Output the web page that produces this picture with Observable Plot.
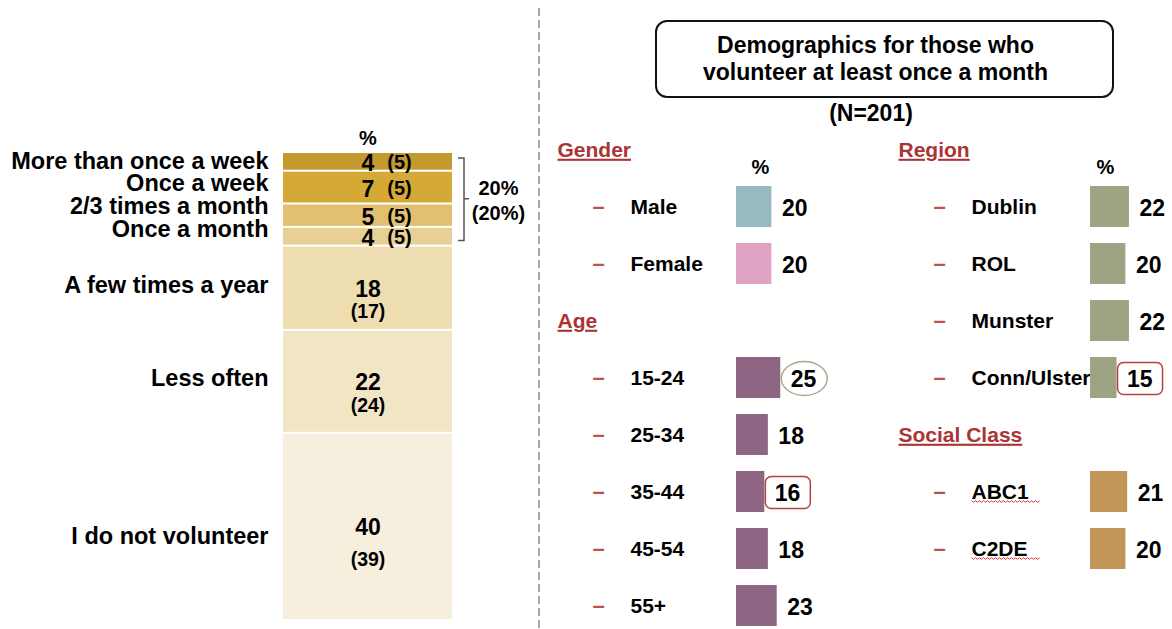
<!DOCTYPE html>
<html><head><meta charset="utf-8">
<script src="https://cdn.jsdelivr.net/npm/d3@7"></script>
<script src="https://cdn.jsdelivr.net/npm/@observablehq/plot@0.6"></script>
<style>
html,body{margin:0;padding:0;background:#fff;}
#root{position:relative;width:1172px;height:629px;overflow:hidden;font-family:"Liberation Sans",Arial,sans-serif;}
#root svg{position:absolute;top:0;}
.titlebox{position:absolute;left:655px;top:20px;width:437px;height:74px;padding-right:18px;border:2px solid #111;border-radius:12px;display:flex;align-items:center;justify-content:center;text-align:center;font-weight:bold;font-size:23px;line-height:27px;color:#000;}
.nline{position:absolute;left:655px;width:432px;top:100px;text-align:center;font-weight:bold;font-size:23px;color:#000;}
</style></head><body><div id="root"></div>
<script>
// ---- Data ----
const freqLabels = ["More than once a week","Once a week","2/3 times a month","Once a month","A few times a year","Less often","I do not volunteer"];
const freqValues = [4, 7, 5, 4, 18, 22, 40];
const freqPrev   = [5, 5, 5, 5, 17, 24, 39];
const freqColors = ["#C29A2E","#D4A935","#E1C170","#E8D095","#EEDDB0","#F2E5C5","#F6EFDD"];

const titleLines = ["Demographics for those who", "volunteer at least once a month"];
const baseLabel = "(N=201)";

const genderLabels = ["Male","Female"];
const genderValues = [20, 20];
const genderColors = ["#96BAC0","#E0A3C3"];

const ageLabels = ["15-24","25-34","35-44","45-54","55+"];
const ageValues = [25, 18, 16, 18, 23];
const ageColors = ["#8F6584"];

const regionLabels = ["Dublin","ROL","Munster","Conn/Ulster"];
const regionValues = [22, 20, 22, 15];
const regionColors = ["#9EA383"];

const classLabels = ["ABC1","C2DE"];
const classValues = [21, 20];
const classColors = ["#C19658"];

const highlights = [
  {label: "15-24", shape: "ellipse"},
  {label: "35-44", shape: "box"},
  {label: "Conn/Ulster", shape: "box"}
];
const spellFlagged = ["ABC1","C2DE"];

// ---- Styles ----
const FONT = '"Liberation Sans", Arial, sans-serif';
const RED = "#A93535";
const DASH = "#C0504D";
const root = document.getElementById("root");

// ---- Left: stacked frequency bar ----
let cum = 0;
const freqRows = freqLabels.map((label, i) => {
  const r = {label, value: freqValues[i], prev: freqPrev[i], color: freqColors[i], y1: cum, y2: cum + freqValues[i], key: "all", i};
  cum += freqValues[i];
  return r;
});
const mid = d => (d.y1 + d.y2) / 2;
const top4 = freqRows.slice(0, 4), rest = freqRows.slice(4);
const monthlyTotal = d3.sum(top4, d => d.value);
const monthlyPrev = d3.sum(top4, d => d.prev);
const bold = {fontWeight: "bold", fill: "#000"};

const plotA = Plot.plot({
  width: 540, height: 629, margin: 0,
  style: {fontFamily: FONT, background: "transparent", overflow: "visible"},
  x: {type: "band", domain: ["all"], range: [283, 452], padding: 0, axis: null},
  y: {domain: [0, 100], range: [152, 620], axis: null},
  color: {type: "identity"},
  marks: [
    Plot.barY(freqRows, {x: "key", y1: "y1", y2: "y2", fill: "color", insetTop: 1, insetBottom: 1}),
    Plot.text(["%"], {x: () => "all", y: () => 0, dy: -14, fontSize: 20, ...bold}),
    Plot.text([top4.map(d => d.label).join("\n")], {x: () => "all", y: () => monthlyTotal / 2, dx: -99.5, dy: -4, textAnchor: "end", lineHeight: 0.965, fontSize: 23.5, ...bold}),
    Plot.text(rest.slice(0, 2), {x: "key", y: mid, text: "label", dx: -99.5, dy: -3, textAnchor: "end", fontSize: 23.5, ...bold}),
    Plot.text(rest.slice(2), {x: "key", y: mid, text: "label", dx: -99.5, dy: 10, textAnchor: "end", fontSize: 23.5, ...bold}),
    Plot.text(top4, {x: "key", y: mid, text: d => String(d.value), dy: 2, fontSize: 23, ...bold}),
    Plot.text(top4, {x: "key", y: mid, text: d => `(${d.prev})`, dx: 31.5, dy: 1, fontSize: 20, ...bold}),
    Plot.text(rest, {x: "key", y: mid, text: d => String(d.value), dy: 1, fontSize: 23, ...bold}),
    Plot.text(rest.slice(0, 2), {x: "key", y: mid, text: d => `(${d.prev})`, dy: 24, fontSize: 19.5, ...bold}),
    Plot.text(rest.slice(2), {x: "key", y: mid, text: d => `(${d.prev})`, dy: 33, fontSize: 19.5, ...bold}),
    // bracket round the monthly-or-more group
    (index, scales) => {
      const xr = scales.x("all") + scales.x.bandwidth();
      const yt = scales.y(0) + 6, yb = scales.y(monthlyTotal) - 5, ym = scales.y(monthlyTotal / 2);
      const g = d3.create("svg:g");
      g.append("path")
        .attr("d", `M${xr + 6},${yt}H${xr + 12}V${yb}H${xr + 6}M${xr + 12},${ym}H${xr + 17}`)
        .attr("fill", "none").attr("stroke", "#555").attr("stroke-width", 1.5);
      return g.node();
    },
    Plot.text([`${monthlyTotal}%\n(${monthlyPrev}%)`], {x: () => "all", y: () => monthlyTotal / 2, dx: 130.5, lineHeight: 1.25, fontSize: 20, ...bold}),
    // dashed divider
    (index, scales, values, dims) => {
      const g = d3.create("svg:g");
      g.append("line").attr("x1", dims.width - 1).attr("x2", dims.width - 1).attr("y1", 8).attr("y2", dims.height)
        .attr("stroke", "#A6A6A6").attr("stroke-width", 2).attr("stroke-dasharray", "8,4");
      return g.node();
    }
  ]
});
plotA.style.left = "0px";
root.appendChild(plotA);

// ---- Title box ----
const tb = document.createElement("div");
tb.className = "titlebox";
tb.innerHTML = titleLines.join("<br>");
root.appendChild(tb);
const nl = document.createElement("div");
nl.className = "nline";
nl.textContent = baseLabel;
root.appendChild(nl);

// ---- Right: demographic columns ----
const PX_PER = 1.77;
function column({groups, width, left, headerDx, dashDx, labelDx, barStart, pctDx}) {
  const rows = [], headers = [];
  let r = 0;
  for (const g of groups) {
    headers.push({title: g.title, row: r++});
    g.labels.forEach((l, i) => rows.push({label: l, value: g.values[i], color: g.colors[i] ?? g.colors[0], row: r++}));
  }
  const hl = highlights.map(h => ({...h, ...rows.find(d => d.label === h.label)})).filter(h => h.row !== undefined);
  const svg = Plot.plot({
    width, height: 629, margin: 0,
    style: {fontFamily: FONT, background: "transparent", overflow: "visible"},
    x: {domain: [0, 30], range: [barStart, barStart + 30 * PX_PER], axis: null},
    y: {type: "band", domain: d3.range(9), range: [113.52, 642.48], padding: 0.28, axis: null},
    color: {type: "identity"},
    marks: [
      Plot.text(headers, {y: "row", text: "title", frameAnchor: "left", dx: headerDx, textAnchor: "start", fill: RED, fontSize: 21, fontWeight: "bold"}),
      Plot.text(["%"], {x: () => 0, y: () => 0, dx: pctDx, dy: 18, fontSize: 20, ...bold}),
      Plot.text(rows, {y: "row", text: () => "\u2013", frameAnchor: "left", dx: dashDx, textAnchor: "middle", fill: DASH, fontSize: 22, fontWeight: "bold"}),
      Plot.text(rows, {y: "row", text: "label", frameAnchor: "left", dx: labelDx, textAnchor: "start", fontSize: 21, ...bold}),
      Plot.barX(rows, {x: "value", y: "row", fill: "color"}),
      Plot.text(rows, {x: "value", y: "row", text: d => String(d.value), dx: 10, dy: 2, textAnchor: "start", fontSize: 23, ...bold}),
      (index, scales) => {
        const g = d3.create("svg:g").attr("fill", "none");
        const bw = scales.y.bandwidth();
        for (const h of hl) {
          const xe = scales.x(h.value), yc = scales.y(h.row) + bw / 2;
          if (h.shape === "ellipse") {
            g.append("ellipse").attr("cx", xe + 24).attr("cy", yc + 1).attr("rx", 23).attr("ry", 17)
              .attr("stroke", "#A7A98F").attr("stroke-width", 1.5);
          } else {
            g.append("rect").attr("x", xe + 1).attr("y", yc - 15).attr("width", 45).attr("height", 32).attr("rx", 6)
              .attr("stroke", "#B5403F").attr("stroke-width", 1.5);
          }
        }
        return g.node();
      }
    ]
  });
  svg.style.left = left + "px";
  root.appendChild(svg);
  d3.select(svg).selectAll("text").each(function() {
    const t = this.textContent;
    if (headers.some(h => h.title === t)) this.setAttribute("text-decoration", "underline");
    if (spellFlagged.includes(t)) {
      // spell-check style red squiggle under the label, in the label's own coordinate space
      const b = this.getBBox();
      const y0 = b.y + b.height - 2;
      let d = `M${b.x},${y0}`;
      for (let k = 0, x = b.x; x < b.x + b.width + 10; k++, x += 2) d += `L${x + 2},${y0 + (k % 2 ? 0 : 1.6)}`;
      const p = d3.select(this.parentNode).append("path").attr("d", d).attr("fill", "none").attr("stroke", "#E02020").attr("stroke-width", 0.9);
      const tr = this.getAttribute("transform");
      if (tr) p.attr("transform", tr);
    }
  });
}

column({
  groups: [
    {title: "Gender", labels: genderLabels, values: genderValues, colors: genderColors},
    {title: "Age", labels: ageLabels, values: ageValues, colors: ageColors}
  ],
  width: 340, left: 540, headerDx: 17, dashDx: 58, labelDx: 90, barStart: 196, pctDx: 24
});
column({
  groups: [
    {title: "Region", labels: regionLabels, values: regionValues, colors: regionColors},
    {title: "Social Class", labels: classLabels, values: classValues, colors: classColors}
  ],
  width: 292, left: 880, headerDx: 18, dashDx: 59, labelDx: 91, barStart: 210, pctDx: 15
});
</script></body></html>
